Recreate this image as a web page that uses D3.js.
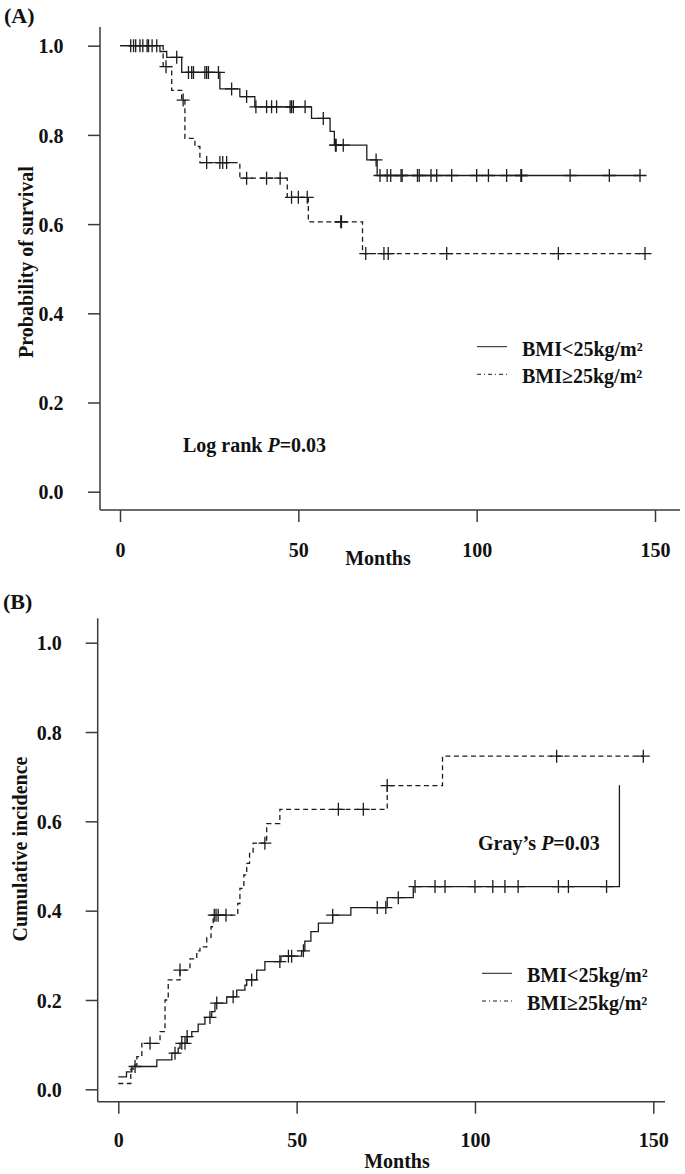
<!DOCTYPE html>
<html>
<head>
<meta charset="utf-8">
<script src="https://cdn.jsdelivr.net/npm/d3@7"></script>
<style>
  html, body { margin: 0; padding: 0; background: #fff; }
  svg { display: block; }
  text { font-family: "Liberation Serif", "Times New Roman", serif; font-weight: bold; fill: #111; }
</style>
</head>
<body>
<svg id="chart" width="685" height="1174"></svg>
<script>
// ---------- DATA ----------
const monthTicks = [0, 50, 100, 150];
const probTicks = [0.0, 0.2, 0.4, 0.6, 0.8, 1.0];
const seriesNames = ["BMI<25kg/m²", "BMI≥25kg/m²"];

// Panel A: Kaplan-Meier survival
const survLowTime = [0, 11.2, 13.1, 17.3, 28.0, 33.6, 37.8, 53.7, 58.9, 60.1, 69.2, 72.1, 145.8];
const survLowProb = [1.000, 0.987, 0.974, 0.940, 0.903, 0.886, 0.863, 0.837, 0.808, 0.777, 0.744, 0.709, 0.709];
const survLowCensor = [3.0, 3.8, 4.4, 5.6, 6.4, 7.6, 9.0, 10.3, 15.9, 19.2, 20.1, 20.6, 23.8, 24.3, 24.8, 27.6,
  31.3, 35.5, 38.1, 41.1, 42.5, 43.9, 47.7, 48.1, 48.6, 51.9, 57.0, 60.4, 60.6, 62.6, 71.8, 72.9, 74.9, 75.9,
  78.8, 79.1, 83.4, 83.9, 87.2, 88.8, 93.0, 100.0, 103.3, 108.4, 112.4, 112.6, 126.2, 137.2, 145.8];

const survHighTime = [0, 12.1, 14.5, 17.3, 18.2, 21.0, 22.4, 33.6, 46.9, 52.8, 68.0, 147.2];
const survHighProb = [1.000, 0.953, 0.900, 0.878, 0.792, 0.774, 0.738, 0.703, 0.660, 0.605, 0.534, 0.534];
const survHighCensor = [8.0, 12.9, 17.7, 24.3, 28.0, 28.8, 29.9, 35.5, 41.1, 44.9, 48.1, 50.0, 52.5, 61.9, 62.1,
  68.9, 74.0, 75.2, 91.6, 122.9, 147.2];

// Panel B: cumulative incidence
const incLowTime = [0, 2.3, 3.8, 10.8, 15.0, 16.8, 17.3, 19.3, 20.6, 22.4, 24.3, 26.2, 27.1, 30.4, 33.2, 35.5,
  36.0, 38.8, 41.1, 45.6, 51.4, 52.3, 54.0, 56.1, 60.1, 65.2, 75.4, 82.7, 140.5];
const incLowValue = [0.028, 0.039, 0.051, 0.066, 0.081, 0.092, 0.103, 0.118, 0.129, 0.146, 0.161, 0.174, 0.193,
  0.207, 0.222, 0.233, 0.245, 0.267, 0.286, 0.298, 0.310, 0.332, 0.353, 0.372, 0.390, 0.407, 0.429, 0.454, 0.681];
const incLowCensor = [4.7, 15.9, 17.8, 18.7, 19.3, 25.7, 27.6, 32.2, 37.4, 45.3, 47.7, 48.6, 51.9, 60.1, 72.6,
  75.0, 78.5, 83.2, 88.8, 91.6, 100.0, 105.0, 108.4, 112.1, 123.4, 126.2, 136.9];

const incHighTime = [0, 3.5, 4.2, 5.2, 6.6, 11.7, 13.1, 14.0, 17.3, 20.1, 22.0, 22.9, 24.8, 26.0, 26.6, 33.5,
  34.1, 35.2, 36.0, 36.8, 37.8, 41.6, 45.3, 75.4, 90.9, 147.2];
const incHighValue = [0.013, 0.045, 0.054, 0.073, 0.103, 0.129, 0.200, 0.245, 0.267, 0.292, 0.310, 0.319, 0.340,
  0.364, 0.390, 0.416, 0.450, 0.480, 0.506, 0.528, 0.551, 0.595, 0.627, 0.680, 0.746, 0.746];
const incHighCensor = [8.9, 17.3, 26.9, 27.4, 28.0, 30.2, 41.1, 61.7, 68.7, 75.4, 122.9, 147.2];

// ---------- DRAWING ----------
const svg = d3.select("#chart");
const LINE = "#1c1c1c", AXIS = "#3a3a3a";
const DASH = "5,3.5";

function stepValue(times, vals, t) {
  let v = vals[0];
  for (let i = 0; i < times.length; i++) { if (times[i] <= t) v = vals[i]; }
  return v;
}

function panel(cfg) {
  const g = svg.append("g");
  const x = d3.scaleLinear().domain([0, 150]).range(cfg.xRange);
  const y = d3.scaleLinear().domain([0, 1]).range(cfg.yRange);

  // axis frame (L-shaped)
  g.append("line").attr("x1", cfg.frameLeft).attr("x2", cfg.frameLeft)
    .attr("y1", cfg.frameTop).attr("y2", cfg.frameBottom)
    .attr("stroke", AXIS).attr("stroke-width", 1.5);
  g.append("line").attr("x1", cfg.frameLeft).attr("x2", cfg.frameRight)
    .attr("y1", cfg.frameBottom).attr("y2", cfg.frameBottom)
    .attr("stroke", AXIS).attr("stroke-width", 1.5);

  const xAxis = g.append("g").attr("transform", `translate(0,${cfg.frameBottom})`)
    .call(d3.axisBottom(x).tickValues(monthTicks).tickSize(12).tickPadding(cfg.xPad).tickFormat(d3.format("d")));
  const yAxis = g.append("g").attr("transform", `translate(${cfg.frameLeft},0)`)
    .call(d3.axisLeft(y).tickValues(probTicks).tickSize(12).tickPadding(cfg.yPad).tickFormat(d3.format(".1f")));
  [xAxis, yAxis].forEach(a => {
    a.select(".domain").remove();
    a.selectAll(".tick line").attr("stroke", AXIS).attr("stroke-width", 1.5);
    a.selectAll(".tick text").attr("font-size", 20).attr("fill", "#111")
      .style("font-family", '"Liberation Serif", serif').style("font-weight", "bold");
  });
  yAxis.selectAll(".tick text").attr("dy", "0.36em");

  // axis titles
  g.append("text").attr("x", cfg.xTitle[0]).attr("y", cfg.xTitle[1])
    .attr("text-anchor", "middle").attr("font-size", 20).text("Months");
  g.append("text").attr("transform", `translate(${cfg.yTitle[0]},${cfg.yTitle[1]}) rotate(-90)`)
    .attr("text-anchor", "middle").attr("font-size", 20).text(cfg.yLabel);
  g.append("text").attr("x", cfg.tag[0]).attr("y", cfg.tag[1])
    .attr("font-size", 22).text(cfg.tagText);

  // curves
  const line = d3.line().x(d => x(d[0])).y(d => y(d[1])).curve(d3.curveStepAfter);
  cfg.series.forEach(s => {
    const pts = s.times.map((t, i) => [t, s.vals[i]]);
    g.append("path").attr("d", line(pts)).attr("fill", "none")
      .attr("stroke", LINE).attr("stroke-width", 1.3)
      .attr("stroke-dasharray", s.dash || null);
    const cg = g.append("g");
    s.censor.forEach(t => {
      const cx = x(t), cy = y(stepValue(s.times, s.vals, t));
      cg.append("path").attr("d", `M${cx - 6.5},${cy}H${cx + 6.5}M${cx},${cy - 6.5}V${cy + 6.5}`)
        .attr("stroke", LINE).attr("stroke-width", 1.3);
    });
  });

  // legend
  cfg.series.forEach((s, i) => {
    const ly = cfg.legend[1] + i * cfg.legendGap;
    g.append("line").attr("x1", cfg.legend[0]).attr("x2", cfg.legend[0] + 30)
      .attr("y1", ly).attr("y2", ly).attr("stroke", LINE).attr("stroke-width", 1)
      .attr("stroke-dasharray", i === 1 ? "4,3,1,3" : null);
    g.append("text").attr("x", cfg.legend[0] + 45).attr("y", ly + 9)
      .attr("font-size", 20).text(seriesNames[i]);
  });

  // p-value annotation
  const ann = g.append("text").attr("x", cfg.ann[0]).attr("y", cfg.ann[1]).attr("font-size", 20);
  ann.append("tspan").text(cfg.annText + " ");
  ann.append("tspan").attr("font-style", "italic").text("P");
  ann.append("tspan").text("=0.03");
}

panel({
  xRange: [120, 655], yRange: [491.7, 45.7],
  frameLeft: 100, frameRight: 680, frameTop: 27, frameBottom: 510,
  xPad: 21, yPad: 24.5,
  xTitle: [378, 565], yTitle: [33, 262], yLabel: "Probability of survival",
  tag: [4, 23], tagText: "(A)",
  legend: [477, 346.7], legendGap: 27.6,
  ann: [183, 451.7], annText: "Log rank",
  series: [
    { times: survLowTime, vals: survLowProb, censor: survLowCensor },
    { times: survHighTime, vals: survHighProb, censor: survHighCensor, dash: DASH }
  ]
});

panel({
  xRange: [118.3, 653.3], yRange: [1089.3, 642.7],
  frameLeft: 97.7, frameRight: 665, frameTop: 618.3, frameBottom: 1101.7,
  xPad: 19.3, yPad: 24,
  xTitle: [397, 1168], yTitle: [27, 849], yLabel: "Cumulative incidence",
  tag: [3, 609], tagText: "(B)",
  legend: [482, 973.3], legendGap: 27.7,
  ann: [478, 850], annText: "Gray’s",
  series: [
    { times: incLowTime, vals: incLowValue, censor: incLowCensor },
    { times: incHighTime, vals: incHighValue, censor: incHighCensor, dash: DASH }
  ]
});
</script>
</body>
</html>
